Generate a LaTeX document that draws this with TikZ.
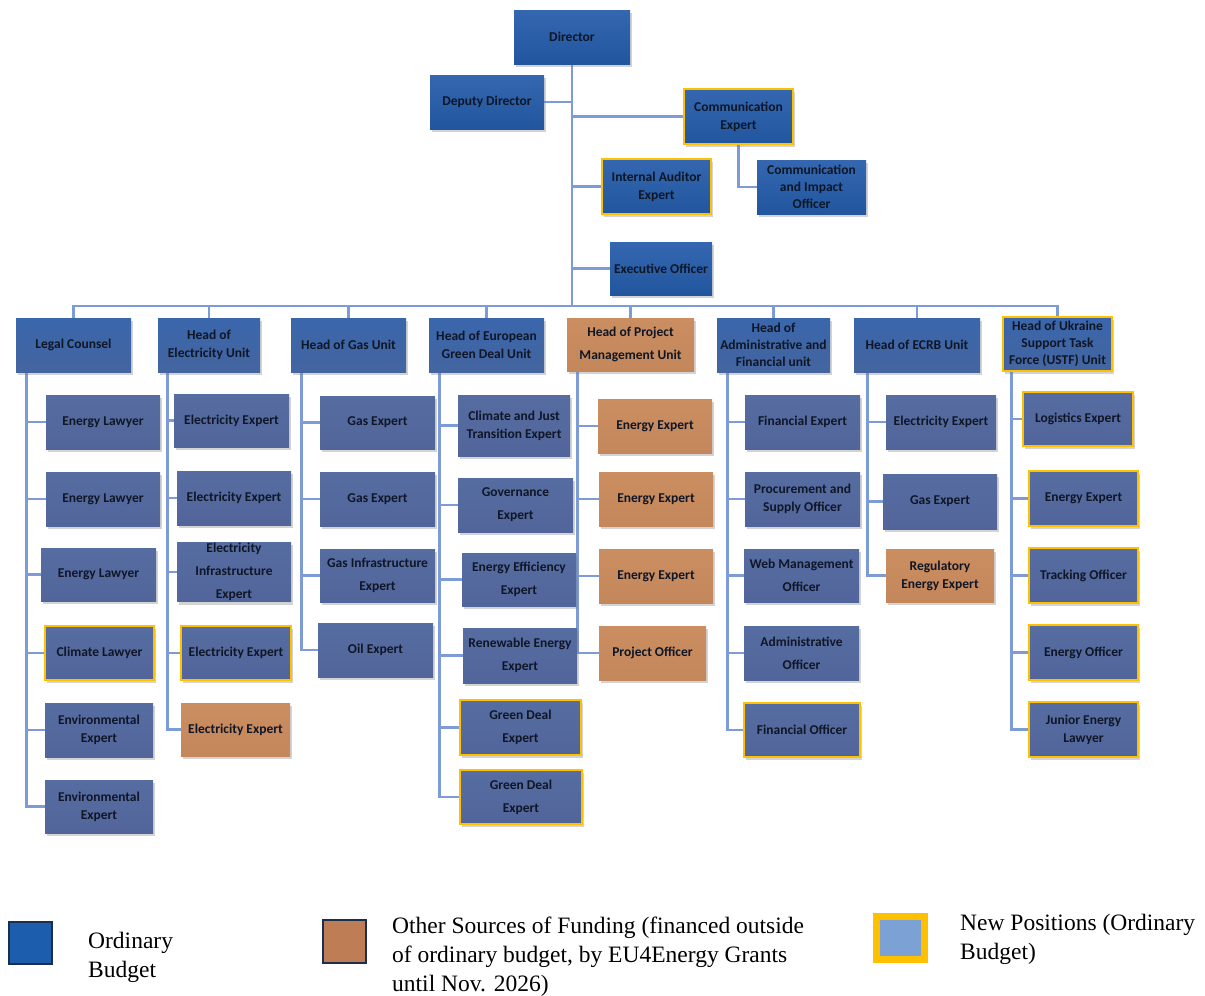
\documentclass[tikz,border=0pt]{standalone}
\usepackage{fontspec}
\setmainfont{Liberation Serif}
\newfontfamily\boxfont{Carlito}
\usetikzlibrary{shadows,backgrounds}
\definecolor{tbA}{HTML}{3467AF}
\definecolor{tbB}{HTML}{21569F}
\definecolor{hbA}{HTML}{3A66AC}
\definecolor{hbB}{HTML}{44659F}
\definecolor{sbA}{HTML}{566DA2}
\definecolor{sbM}{HTML}{687BAB}
\definecolor{sbB}{HTML}{52659A}
\definecolor{orA}{HTML}{CB8E61}
\definecolor{orB}{HTML}{C3875B}
\definecolor{ylw}{HTML}{FFC000}
\definecolor{lnc}{HTML}{7D9BD7}
\definecolor{txt}{HTML}{0F1626}
\definecolor{lgblue}{HTML}{1C5DAD}
\definecolor{lgor}{HTML}{BE7D55}
\definecolor{lgedge}{HTML}{1B2E4B}
\definecolor{lglb}{HTML}{7BA1D5}
\tikzset{
  base/.style={rectangle, align=center, inner sep=1pt, text=txt,
    font=\boxfont\bfseries\fontsize{13.5}{18}\selectfont,
    drop shadow={shadow xshift=1.5pt, shadow yshift=-3pt, opacity=0.35}},
  sz/.style 2 args={minimum width=#1, minimum height=#2},
  topbox/.style={base, top color=tbA, bottom color=tbB},
  headbox/.style={base, top color=hbA, bottom color=hbB},
  subbox/.style={base, top color=sbA, middle color=sbM, bottom color=sbB},
  orbox/.style={base, top color=orA, bottom color=orB},
  newbox/.style={draw=ylw, line width=2.5pt},
  wide/.style={font=\boxfont\bfseries\fontsize{13.5}{23}\selectfont},
  tight/.style={font=\boxfont\bfseries\fontsize{13.5}{17}\selectfont},
  conn/.style={draw=lnc, line width=2.8pt},
  legtext/.style={anchor=west, align=left, font=\fontsize{23.5}{29}\selectfont, text=black, inner sep=0pt},
}
\begin{document}
\begin{tikzpicture}[x=1pt, y=-1pt]
\useasboundingbox (0,0) rectangle (1205,996);
% ---------- top ----------
\node[topbox, sz={116}{54}] (dir) at (572,37) {Director};
\node[topbox, sz={114}{54}] (dep) at (487,102) {Deputy Director};
\node[topbox, newbox, sz={109}{55}] (ce) at (738.5,116.5) {Communication\\Expert};
\node[topbox, tight, sz={109}{54}] (cio) at (811.5,187) {Communication\\and Impact\\Officer};
\node[topbox, newbox, sz={109}{55}] (ia) at (656.5,186.5) {Internal Auditor\\Expert};
\node[topbox, sz={102}{53}] (eo) at (661,268.5) {Executive Officer};
\coordinate (bar) at (572,306);
% ---------- heads ----------
\node[headbox, sz={115}{54}] (lc) at (73.5,345) {Legal Counsel};
\node[headbox, sz={102}{54}] (he) at (209,345) {Head of\\Electricity Unit};
\node[headbox, sz={115}{54}] (hg) at (348.5,345) {Head of Gas Unit};
\node[headbox, sz={115}{54}] (hegd) at (486.5,345) {Head of European\\Green Deal Unit};
\node[orbox, wide, sz={127}{53}] (hpm) at (630.5,344.5) {Head of Project\\Management Unit};
\node[headbox, tight, sz={113}{54}] (ha) at (773.5,345) {Head of\\Administrative and\\Financial unit};
\node[headbox, sz={126}{54}] (hecrb) at (917,345) {Head of ECRB Unit};
\node[headbox, newbox, tight, sz={109}{54}] (hu) at (1057.5,344) {Head of Ukraine\\Support Task\\Force (USTF) Unit};
% ---------- legal ----------
\node[subbox, sz={114}{54}] (l1) at (103,422) {Energy Lawyer};
\node[subbox, sz={114}{54}] (l2) at (103,499) {Energy Lawyer};
\node[subbox, sz={115}{53}] (l3) at (98.5,574.5) {Energy Lawyer};
\node[subbox, newbox, sz={109}{54}] (l4) at (99.5,653) {Climate Lawyer};
\node[subbox, sz={108}{54}] (l5) at (99,730) {Environmental\\Expert};
\node[subbox, sz={108}{53}] (l6) at (99,806.5) {Environmental\\Expert};
% ---------- electricity ----------
\node[subbox, sz={115}{53}] (e1) at (231.5,420.5) {Electricity Expert};
\node[subbox, sz={114}{54}] (e2) at (234,498) {Electricity Expert};
\node[subbox, wide, sz={114}{54}] (e3) at (234,572) {Electricity\\Infrastructure\\Expert};
\node[subbox, newbox, sz={110}{54}] (e4) at (236,653) {Electricity Expert};
\node[orbox, sz={109}{53}] (e5) at (235.5,729.5) {Electricity Expert};
% ---------- gas ----------
\node[subbox, sz={115}{53}] (g1) at (377.5,422.5) {Gas Expert};
\node[subbox, sz={115}{54}] (g2) at (377.5,499) {Gas Expert};
\node[subbox, wide, sz={115}{53}] (g3) at (377.5,575.5) {Gas Infrastructure\\Expert};
\node[subbox, sz={115}{54}] (g4) at (375.5,650) {Oil Expert};
% ---------- green deal ----------
\node[subbox, sz={112}{61}] (d1) at (514,425.5) {Climate and Just\\Transition Expert};
\node[subbox, wide, sz={115}{54}] (d2) at (515.5,505) {Governance\\Expert};
\node[subbox, wide, sz={114}{53}] (d3) at (519,579.5) {Energy Efficiency\\Expert};
\node[subbox, wide, sz={114}{55}] (d4) at (520,655.5) {Renewable Energy\\Expert};
\node[subbox, newbox, wide, sz={121}{55}] (d5) at (520.5,727.5) {Green Deal\\Expert};
\node[subbox, newbox, wide, sz={122}{54}] (d6) at (521,797) {Green Deal\\Expert};
% ---------- project management ----------
\node[orbox, sz={114}{54}] (p1) at (655,426) {Energy Expert};
\node[orbox, sz={114}{54}] (p2) at (656,499) {Energy Expert};
\node[orbox, sz={114}{54}] (p3) at (656,576) {Energy Expert};
\node[orbox, sz={107}{54}] (p4) at (652.5,653) {Project Officer};
% ---------- admin ----------
\node[subbox, sz={115}{54}] (a1) at (802.5,422) {Financial Expert};
\node[subbox, sz={115}{54}] (a2) at (802.5,499) {Procurement and\\Supply Officer};
\node[subbox, wide, sz={115}{53}] (a3) at (801.5,575.5) {Web Management\\Officer};
\node[subbox, wide, sz={115}{54}] (a4) at (801.5,653) {Administrative\\Officer};
\node[subbox, newbox, sz={116}{54}] (a5) at (802,730) {Financial Officer};
% ---------- ECRB ----------
\node[subbox, sz={110}{54}] (c1) at (941,422) {Electricity Expert};
\node[subbox, sz={114}{55}] (c2) at (940,501.5) {Gas Expert};
\node[orbox, sz={108}{53}] (c3) at (940,575.5) {Regulatory\\Energy Expert};
% ---------- USTF ----------
\node[subbox, newbox, sz={110}{54}] (u1) at (1078,419) {Logistics Expert};
\node[subbox, newbox, sz={109}{55}] (u2) at (1083.5,498.5) {Energy Expert};
\node[subbox, newbox, sz={109}{55}] (u3) at (1083.5,575.5) {Tracking Officer};
\node[subbox, newbox, sz={109}{55}] (u4) at (1083.5,652.5) {Energy Officer};
\node[subbox, newbox, sz={109}{55}] (u5) at (1083.5,729.5) {Junior Energy\\Lawyer};
% ---------- connectors ----------
\begin{scope}[on background layer]
\draw[conn] (dir.south) -- (bar);
\draw[conn] (dep.east) -- (dep.east -| dir.south);
\draw[conn] (ce.west -| dir.south) -- (ce.west);
\draw[conn] (ia.west -| dir.south) -- (ia.west);
\draw[conn] (eo.west -| dir.south) -- (eo.west);
\draw[conn] (ce.south) |- (cio.west);
\foreach \h in {lc,he,hg,hegd,hpm,ha,hecrb,hu} \draw[conn] (bar) -| (\h.north);
\coordinate (tl) at ([xshift=11pt]lc.south west);
\coordinate (te) at ([xshift=10pt]he.south west);
\coordinate (tg) at ([xshift=11pt]hg.south west);
\coordinate (td) at ([xshift=11pt]hegd.south west);
\coordinate (tp) at ([xshift=11pt]hpm.south west);
\coordinate (ta) at ([xshift=11pt]ha.south west);
\coordinate (tc) at ([xshift=14pt]hecrb.south west);
\coordinate (tu) at ([xshift=10pt]hu.south west);
\foreach \n in {l1,l2,l3,l4,l5,l6} \draw[conn] (tl) |- (\n.west);
\foreach \n in {e1,e2,e3,e4,e5} \draw[conn] (te) |- (\n.west);
\foreach \n in {g1,g2,g3,g4} \draw[conn] (tg) |- (\n.west);
\foreach \n in {d1,d2,d3,d4,d5,d6} \draw[conn] (td) |- (\n.west);
\foreach \n in {p1,p2,p3,p4} \draw[conn] (tp) |- (\n.west);
\foreach \n in {a1,a2,a3,a4,a5} \draw[conn] (ta) |- (\n.west);
\foreach \n in {c1,c2,c3} \draw[conn] (tc) |- (\n.west);
\foreach \n in {u1,u2,u3,u4,u5} \draw[conn] (tu) |- (\n.west);
\end{scope}
% ---------- legend ----------
\node[draw=lgedge, line width=2pt, fill=lgblue, minimum width=43, minimum height=42, inner sep=0pt] (lg1) at (30.5,943) {};
\node[legtext] (lt1) at (88,957) {Ordinary\\Budget};
\node[draw=lgedge, line width=2pt, fill=lgor, minimum width=43, minimum height=43, inner sep=0pt] (lg2) at (344.5,941.5) {};
\node[legtext] (lt2) at (392,957) {Other Sources of Funding (financed outside\\of ordinary budget, by EU4Energy Grants\\until Nov. 2026)};
\node[draw=ylw, line width=7pt, fill=lglb, minimum width=48, minimum height=43, inner sep=0pt] (lg3) at (900.5,938) {};
\node[legtext] (lt3) at (960,939.5) {New Positions (Ordinary\\Budget)};
\end{tikzpicture}
\end{document}
